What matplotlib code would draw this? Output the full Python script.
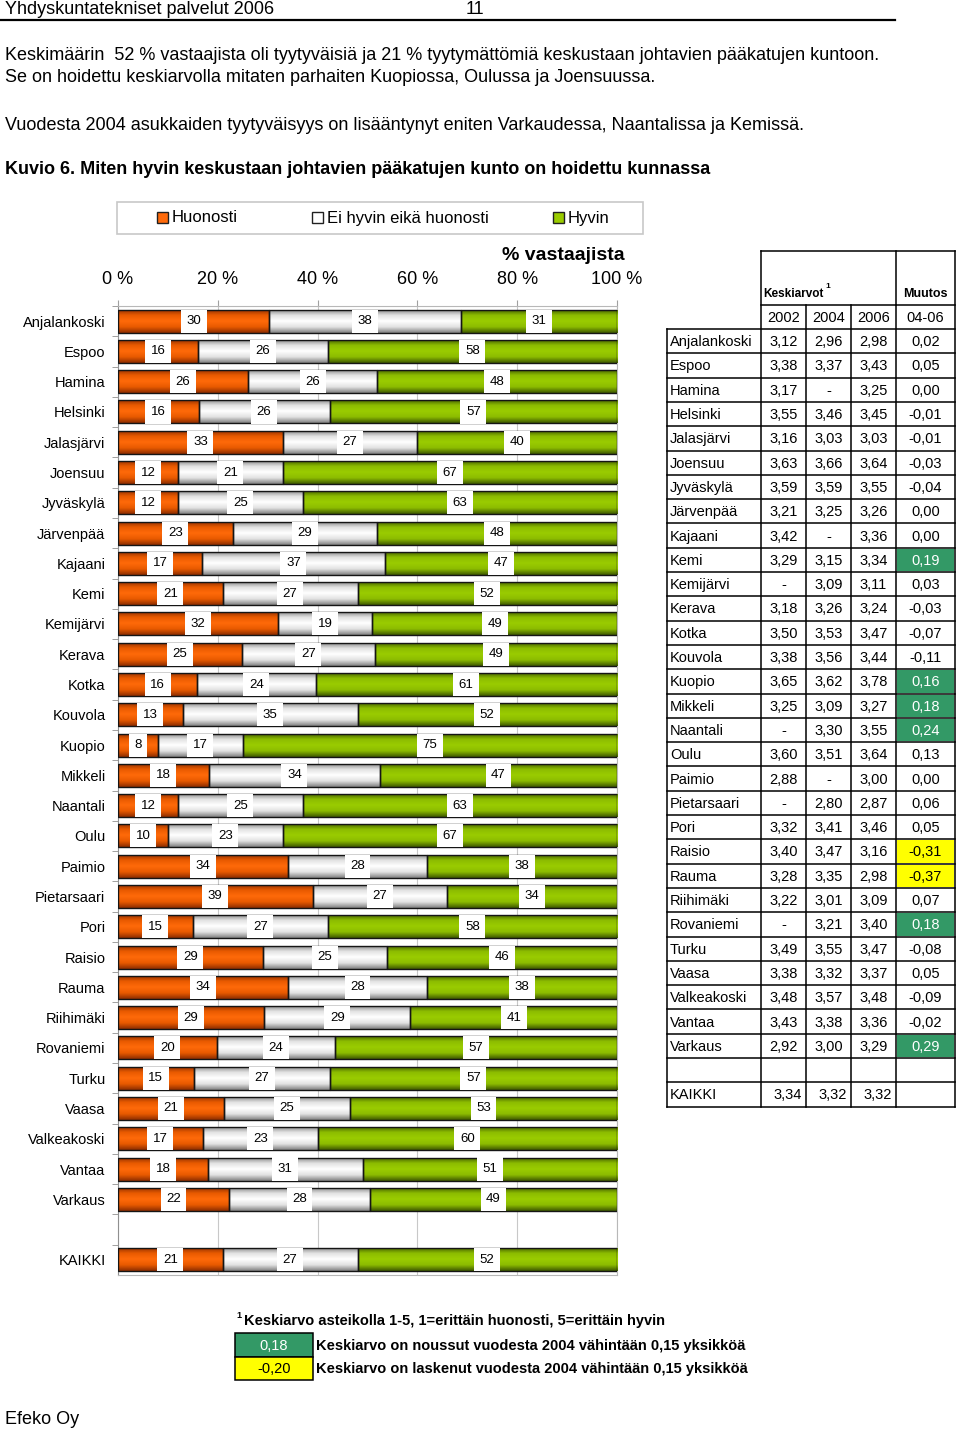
import numpy as np
import matplotlib.pyplot as plt
from matplotlib.colors import LinearSegmentedColormap
from matplotlib.patches import Rectangle

plt.rcParams['font.family'] = ['Liberation Sans', 'DejaVu Sans']
NARROW = ['Liberation Sans Narrow', 'Liberation Sans', 'DejaVu Sans']

W, H = 960, 1432

# --- data ---------------------------------------------------------------
cities = ['Anjalankoski', 'Espoo', 'Hamina', 'Helsinki', 'Jalasjärvi', 'Joensuu',
          'Jyväskylä', 'Järvenpää', 'Kajaani', 'Kemi', 'Kemijärvi', 'Kerava',
          'Kotka', 'Kouvola', 'Kuopio', 'Mikkeli', 'Naantali', 'Oulu', 'Paimio',
          'Pietarsaari', 'Pori', 'Raisio', 'Rauma', 'Riihimäki', 'Rovaniemi',
          'Turku', 'Vaasa', 'Valkeakoski', 'Vantaa', 'Varkaus']
huonosti = [30, 16, 26, 16, 33, 12, 12, 23, 17, 21, 32, 25, 16, 13, 8, 18, 12, 10,
            34, 39, 15, 29, 34, 29, 20, 15, 21, 17, 18, 22]
neutraali = [38, 26, 26, 26, 27, 21, 25, 29, 37, 27, 19, 27, 24, 35, 17, 34, 25, 23,
             28, 27, 27, 25, 28, 29, 24, 27, 25, 23, 31, 28]
hyvin = [31, 58, 48, 57, 40, 67, 63, 48, 47, 52, 49, 49, 61, 52, 75, 47, 63, 67,
         38, 34, 58, 46, 38, 41, 57, 57, 53, 60, 51, 49]
kaikki = [21, 27, 52]
series = ['Huonosti', 'Ei hyvin eikä huonosti', 'Hyvin']

# table: mean scores (None = '-') and change 04-06
ka2002 = [3.12, 3.38, 3.17, 3.55, 3.16, 3.63, 3.59, 3.21, 3.42, 3.29, None, 3.18,
          3.50, 3.38, 3.65, 3.25, None, 3.60, 2.88, None, 3.32, 3.40, 3.28, 3.22,
          None, 3.49, 3.38, 3.48, 3.43, 2.92]
ka2004 = [2.96, 3.37, None, 3.46, 3.03, 3.66, 3.59, 3.25, None, 3.15, 3.09, 3.26,
          3.53, 3.56, 3.62, 3.09, 3.30, 3.51, None, 2.80, 3.41, 3.47, 3.35, 3.01,
          3.21, 3.55, 3.32, 3.57, 3.38, 3.00]
ka2006 = [2.98, 3.43, 3.25, 3.45, 3.03, 3.64, 3.55, 3.26, 3.36, 3.34, 3.11, 3.24,
          3.47, 3.44, 3.78, 3.27, 3.55, 3.64, 3.00, 2.87, 3.46, 3.16, 2.98, 3.09,
          3.40, 3.47, 3.37, 3.48, 3.36, 3.29]
muutos = [0.02, 0.05, 0.00, -0.01, -0.01, -0.03, -0.04, 0.00, 0.00, 0.19, 0.03,
          -0.03, -0.07, -0.11, 0.16, 0.18, 0.24, 0.13, 0.00, 0.06, 0.05, -0.31,
          -0.37, 0.07, 0.18, -0.08, 0.05, -0.09, -0.02, 0.29]
kaikki_ka = [3.34, 3.32, 3.32]
years = ['2002', '2004', '2006']


def fi(v):
    return '-' if v is None else f'{v:.2f}'.replace('.', ',')


fig = plt.figure(figsize=(W / 100, H / 100), dpi=100)

# overlay axes in pixel coordinates for page text and the table
pg = fig.add_axes([0, 0, 1, 1])
pg.set_xlim(0, W)
pg.set_ylim(H, 0)
pg.axis('off')

pg.text(5, 9, 'Yhdyskuntatekniset palvelut 2006', fontsize=13, family=NARROW, va='center')
pg.text(466, 9, '11', fontsize=13, family=NARROW, va='center')
pg.plot([0, 895], [20, 20], color='black', lw=1.6)

pg.text(5, 55, 'Keskimäärin  52 % vastaajista oli tyytyväisiä ja 21 % tyytymättömiä keskustaan johtavien pääkatujen kuntoon.',
        fontsize=13, va='center')
pg.text(5, 77, 'Se on hoidettu keskiarvolla mitaten parhaiten Kuopiossa, Oulussa ja Joensuussa.',
        fontsize=13, va='center')
pg.text(5, 125, 'Vuodesta 2004 asukkaiden tyytyväisyys on lisääntynyt eniten Varkaudessa, Naantalissa ja Kemissä.',
        fontsize=13, va='center')
pg.text(5, 170, 'Kuvio 6. Miten hyvin keskustaan johtavien pääkatujen kunto on hoidettu kunnassa',
        fontsize=13, fontweight='bold', va='center')

# colours with a vertical shine
stops = [
    ['#8E2E00', '#E85A00', '#FF6A0A', '#E85A00', '#8E2E00'],
    ['#808080', '#E2E2E2', '#FFFFFF', '#E2E2E2', '#808080'],
    ['#3F5800', '#8CBC00', '#9ACC00', '#8CBC00', '#3F5800'],
]
cmaps = [LinearSegmentedColormap.from_list(f'c{i}', list(zip([0, 0.25, 0.5, 0.75, 1], s)))
         for i, s in enumerate(stops)]
grad = np.linspace(0, 1, 64).reshape(-1, 1)

# legend box
pg.add_patch(Rectangle((117, 202), 526, 32, fc='white', ec='#C8C8C8', lw=1.2))
leg_x = [157, 312, 553]
for i, name in enumerate(series):
    pg.add_patch(Rectangle((leg_x[i], 212), 11, 11, fc=stops[i][2], ec='#202020', lw=1.0))
    pg.text(leg_x[i] + 15, 218, name, fontsize=12, family=NARROW, va='center')

# --- bar chart ---------------------------------------------------------------
ax = fig.add_axes([118 / W, 1 - 1275 / H, 499 / W, (1275 - 306) / H])
labels = cities + ['KAIKKI']
ypos = list(range(len(cities))) + [len(cities) + 1]
vals = np.array([huonosti + [kaikki[0]], neutraali + [kaikki[1]], hyvin + [kaikki[2]]]).T
pct = vals / vals.sum(axis=1, keepdims=True) * 100

left = np.zeros(len(labels))
for j in range(3):
    bars = ax.barh(ypos, pct[:, j], left=left, height=0.76, color=stops[j][2],
                   lw=0, zorder=3)
    for b in bars:
        x0, y0, w, h = b.get_x(), b.get_y(), b.get_width(), b.get_height()
        im = ax.imshow(grad, cmap=cmaps[j], extent=[x0, x0 + w, y0, y0 + h],
                       aspect='auto', interpolation='bilinear', zorder=3.2)
        im.set_clip_path(b)
    ax.barh(ypos, pct[:, j], left=left, height=0.76, fill=False,
            edgecolor='#151515', lw=1.0, zorder=3.4)
    for k in range(len(labels)):
        ax.text(left[k] + pct[k, j] / 2, ypos[k], str(vals[k, j]), ha='center', va='center',
                fontsize=9.5, zorder=5,
                bbox=dict(boxstyle='square,pad=0.42', fc='white', ec='none'))
    left += pct[:, j]

ax.set_xlim(0, 100)
ax.set_ylim(len(cities) + 1.5, -0.5)
ax.xaxis.tick_top()
ax.set_xticks(range(0, 101, 20))
ax.set_xticklabels([f'{v} %' for v in range(0, 101, 20)])
ax.tick_params(axis='x', length=4, color='#A0A0A0', labelsize=13, pad=9)
ax.set_yticks(ypos)
ax.set_yticklabels(labels)
ax.tick_params(axis='y', length=0, labelsize=10.5, pad=9)
ax.set_yticks(np.arange(-0.5, len(cities) + 1.5, 1), minor=True)
ax.tick_params(axis='y', which='minor', length=4, color='#909090')
ax.grid(axis='x', color='#C8C8C8', lw=0.8, zorder=0)
for s in ax.spines.values():
    s.set_color('#B8B8B8')
ax.spines['left'].set_color('#909090')
ax.set_axisbelow(True)
pg.text(563, 256, '% vastaajista', fontsize=14, fontweight='bold', ha='center', va='center')

# --- table -------------------------------------------------------------------
cx = [667, 761, 806, 851, 896, 955]
top, y1, y2, rh = 251, 305, 329, 24.3
nrows = len(cities) + 2
bottom = y2 + nrows * rh
lk = dict(color='black', lw=1.1)

pg.plot([cx[1], cx[5]], [top, top], **lk)
pg.plot([cx[1], cx[4]], [y1, y1], **lk)
for x in (cx[1], cx[4], cx[5]):
    pg.plot([x, x], [top, bottom], **lk)
for x in (cx[2], cx[3]):
    pg.plot([x, x], [y1, bottom], **lk)
pg.plot([cx[0], cx[0]], [y2, bottom], **lk)
pg.plot([cx[4], cx[5]], [y1, y1], **lk)
for r in range(nrows + 1):
    yy = y2 + r * rh
    pg.plot([cx[0], cx[5]], [yy, yy], **lk)

pg.text(763, 294, 'Keskiarvot', fontsize=8.5, fontweight='bold', va='center')
pg.text(825, 287, '1', fontsize=6, fontweight='bold', va='center')
pg.text(925.5, 294, 'Muutos', fontsize=9, fontweight='bold', va='center', ha='center')
for i, yr in enumerate(years + ['04-06']):
    pg.text((cx[i + 1] + cx[i + 2]) / 2, (y1 + y2) / 2 + 1, yr, fontsize=10.5,
            ha='center', va='center')

cols = [ka2002, ka2004, ka2006]
for r, name in enumerate(cities):
    yc = y2 + (r + 0.5) * rh + 1
    pg.text(670, yc, name, fontsize=10.5, va='center')
    for c in range(3):
        pg.text((cx[c + 1] + cx[c + 2]) / 2, yc, fi(cols[c][r]), fontsize=10.5,
                ha='center', va='center')
    m = muutos[r]
    tc = 'black'
    if m >= 0.15:
        pg.add_patch(Rectangle((cx[4] + 1, y2 + r * rh + 1), cx[5] - cx[4] - 2, rh - 2,
                               fc='#339966', ec='none'))
        tc = 'white'
    elif m <= -0.15:
        pg.add_patch(Rectangle((cx[4] + 1, y2 + r * rh + 1), cx[5] - cx[4] - 2, rh - 2,
                               fc='#FFFF00', ec='none'))
    pg.text((cx[4] + cx[5]) / 2, yc, fi(m), fontsize=10.5, ha='center', va='center', color=tc)

yc = y2 + (nrows - 0.5) * rh + 1
pg.text(670, yc, 'KAIKKI', fontsize=10.5, va='center')
for c in range(3):
    pg.text(cx[c + 2] - 4, yc, fi(kaikki_ka[c]), fontsize=10.5, ha='right', va='center')

# --- footnote ----------------------------------------------------------------
pg.text(236, 1316, '1', fontsize=6.5, fontweight='bold', va='center')
pg.text(244, 1321, 'Keskiarvo asteikolla 1-5, 1=erittäin huonosti, 5=erittäin hyvin',
        fontsize=10.5, fontweight='bold', va='center')
pg.add_patch(Rectangle((235, 1333), 78, 24, fc='#339966', ec='black', lw=1.1))
pg.add_patch(Rectangle((235, 1357), 78, 23, fc='#FFFF00', ec='black', lw=1.1))
pg.text(274, 1346, '0,18', fontsize=10.5, color='white', ha='center', va='center')
pg.text(274, 1369, '-0,20', fontsize=10.5, color='black', ha='center', va='center')
pg.text(316, 1346, 'Keskiarvo on noussut vuodesta 2004 vähintään 0,15 yksikköä',
        fontsize=10.5, fontweight='bold', va='center')
pg.text(316, 1369, 'Keskiarvo on laskenut vuodesta 2004 vähintään 0,15 yksikköä',
        fontsize=10.5, fontweight='bold', va='center')

pg.text(5, 1420, 'Efeko Oy', fontsize=13, va='center')

fig.savefig('out.png', dpi=100)
